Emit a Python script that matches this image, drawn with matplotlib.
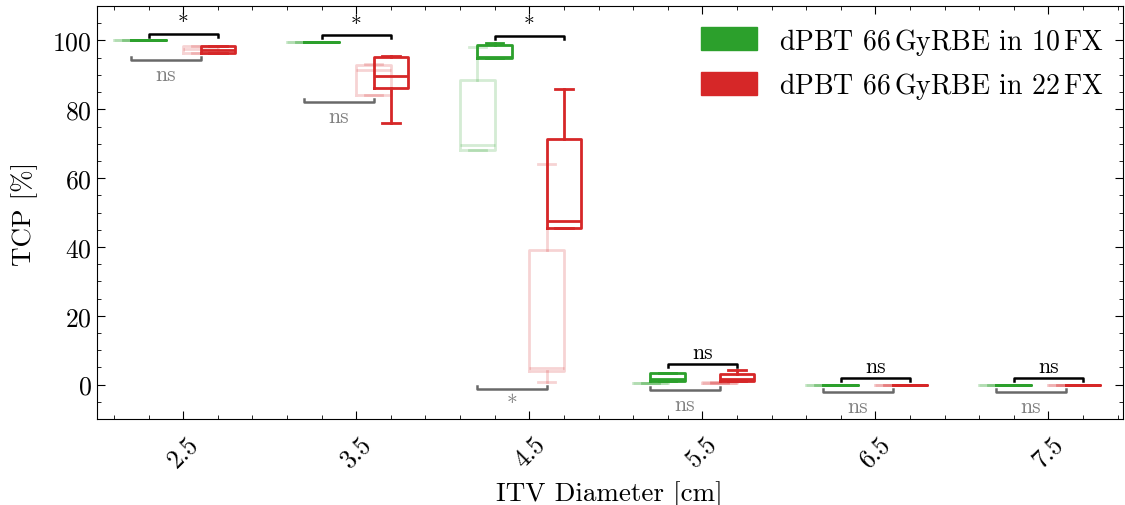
import numpy as np
import matplotlib
matplotlib.use('Agg')
import matplotlib.pyplot as plt
from matplotlib.patches import Patch
from matplotlib.ticker import FixedLocator, MultipleLocator

plt.rcParams['font.family'] = 'serif'
plt.rcParams['font.serif'] = ['cmr10']
plt.rcParams['mathtext.fontset'] = 'cm'
plt.rcParams['axes.unicode_minus'] = False
plt.rcParams['axes.formatter.use_mathtext'] = True

diam = [2.5, 3.5, 4.5, 5.5, 6.5, 7.5]

# box stats per diameter: whislo, q1, med, q3, whishi
g10_faded = [[100, 100, 100, 100, 100], [99.7, 99.7, 99.7, 99.7, 99.7], [68.3, 68.3, 69.5, 88.4, 98.0],
             [0.5, 0.5, 0.5, 0.5, 0.5], [0, 0, 0, 0, 0], [0, 0, 0, 0, 0]]
g10_solid = [[100, 100, 100, 100, 100], [99.6, 99.6, 99.6, 99.6, 99.6], [94.8, 94.8, 95.3, 98.6, 99.4],
             [0.9, 0.9, 1.5, 3.5, 3.5], [0, 0, 0, 0, 0], [0, 0, 0, 0, 0]]
g22_faded = [[96.5, 96.5, 97.5, 98.5, 98.5], [84.3, 84.3, 91.3, 93.0, 93.3], [0.8, 3.9, 4.9, 39.0, 64.0],
             [0.5, 0.5, 0.5, 0.7, 0.7], [0, 0, 0, 0, 0], [0, 0, 0, 0, 0]]
g22_solid = [[96.5, 96.5, 97.2, 98.3, 98.3], [75.9, 86.3, 89.8, 95.1, 95.6], [45.6, 45.6, 47.5, 71.5, 86.0],
             [0.9, 0.9, 1.7, 3.2, 4.1], [0, 0, 0, 0, 0], [0, 0, 0, 0, 0]]

sig_solid = ['*', '*', '*', 'ns', 'ns', 'ns']
sig_faded = ['ns', 'ns', '*', 'ns', 'ns', 'ns']

green = '#2ca02c'
red = '#d62728'


def stats(rows):
    return [dict(whislo=r[0], q1=r[1], med=r[2], q3=r[3], whishi=r[4], fliers=[]) for r in rows]


fig, ax = plt.subplots(figsize=(11.25, 5.06), dpi=100)

groups = [(g10_faded, -0.3, green, 0.2), (g10_solid, -0.2, green, 1.0),
          (g22_faded, 0.1, red, 0.2), (g22_solid, 0.2, red, 1.0)]
for rows, off, col, a in groups:
    props = dict(color=col, alpha=a, linewidth=2)
    ax.bxp(stats(rows), positions=[d + off for d in diam], widths=0.2,
           boxprops=props, whiskerprops=props, capprops=props, medianprops=props,
           showfliers=False, manage_ticks=False)

# significance brackets
for i, d in enumerate(diam):
    top = max(max(g10_solid[i]), max(g22_solid[i])) + 2
    x1, x2 = d - 0.2, d + 0.2
    ax.plot([x1, x1, x2, x2], [top - 1, top, top, top - 1], color='black', lw=1.8)
    ax.text(d, top + 0.4, sig_solid[i], ha='center', va='bottom', fontsize=15.5, color='black')

    low = min(min(g10_faded[i]), min(g22_faded[i])) - 2.2
    x1, x2 = d - 0.3, d + 0.1
    ax.plot([x1, x1, x2, x2], [low + 1, low, low, low + 1], color='dimgray', lw=1.8)
    ax.text(d - 0.1, low - 1.3, sig_faded[i], ha='center', va='top', fontsize=15.5, color='gray')

ax.set_xlim(2.0, 7.93)
ax.set_ylim(-10, 110)
ax.set_xticks(diam)
ax.set_xticklabels([str(d) for d in diam], rotation=45)
ax.xaxis.set_minor_locator(FixedLocator(np.arange(2.1, 8.0, 0.2)))
ax.yaxis.set_major_locator(MultipleLocator(20))
ax.yaxis.set_minor_locator(MultipleLocator(5))
ax.tick_params(which='both', direction='in', top=True, right=True, labelsize=18.5)
ax.tick_params(which='major', length=6)
ax.tick_params(which='minor', length=3)
ax.tick_params(axis='x', pad=9)
ax.set_xlabel('ITV Diameter [cm]', fontsize=19.5, labelpad=6)
ax.set_ylabel('TCP [%]', fontsize=19.5, labelpad=10)

handles = [Patch(color=green, label=r'dPBT 66$\,$GyRBE in 10$\,$FX'),
           Patch(color=red, label=r'dPBT 66$\,$GyRBE in 22$\,$FX')]
ax.legend(handles=handles, loc='upper right', frameon=False, fontsize=20,
          handlelength=2.0, handleheight=0.9, borderaxespad=0.3)

fig.subplots_adjust(left=0.086, right=0.998, top=0.986, bottom=0.17)
plt.savefig('out.png', dpi=100)
